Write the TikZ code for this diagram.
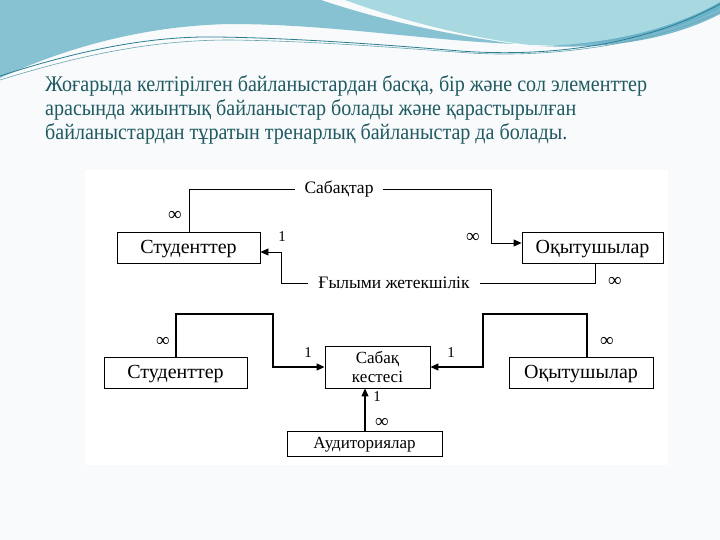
\documentclass[tikz,border=0pt]{standalone}
\usepackage{fontspec}
\setmainfont{Liberation Serif}
\newfontfamily\paraf[FakeStretch=0.9]{Liberation Serif}
\usetikzlibrary{arrows.meta,calc}
\definecolor{teal1}{HTML}{86C2D2}
\definecolor{teal2}{HTML}{A8D8E0}
\definecolor{teal3}{HTML}{5AA8C2}
\definecolor{tline}{HTML}{2A7E90}
\definecolor{ptext}{HTML}{1F5A62}
\definecolor{pagebg}{HTML}{F8FAFB}
\tikzset{
  ebox/.style={draw=black, line width=0.9pt, fill=white, inner sep=0pt, text height=13pt, text depth=2pt, font=\fontsize{20}{21}\selectfont},
  lab/.style={fill=white, inner sep=0pt, font=\fontsize{17.5}{18}\selectfont},
  card/.style={inner sep=0pt, font=\fontsize{15}{15}\selectfont},
  inf/.style={inner sep=0pt, font=\fontsize{19}{19}\selectfont},
  conn/.style={draw=black, line width=0.9pt},
  conn2/.style={draw=black, line width=1.3pt},
  arr/.style={-{Triangle[length=8pt,width=7pt]}},
  ptxt/.style={anchor=base west, inner sep=0pt, text=ptext, font=\paraf\fontsize{22.3}{23}\selectfont}
}
\begin{document}
\begin{tikzpicture}[x=1pt,y=-1pt]
\useasboundingbox (0,0) rectangle (720,540);
\fill[pagebg] (0,0) rectangle (720,540);
% wave decoration
\fill[teal1] (0,0) -- (321,0) .. controls (380,20) and (450,35) .. (515,44)
   .. controls (420,40) and (330,24) .. (230,24) .. controls (130,26) and (50,55) .. (0,78) -- cycle;
\fill[teal2] (345,0) -- (720,0) -- (720,8) .. controls (670,35) and (600,47) .. (530,45)
   .. controls (470,38) and (400,20) .. (345,0) -- cycle;
\fill[teal3, opacity=0.8] (540,46) .. controls (620,44) and (680,25) .. (720,2) -- (720,14)
   .. controls (680,35) and (620,50) .. (540,46) -- cycle;
\draw[tline, line width=0.8pt] (0,76) .. controls (80,50) and (150,36) .. (216,37)
   .. controls (300,38) and (400,46) .. (460,51) .. controls (540,57) and (640,48) .. (720,4);
\draw[tline!70, line width=0.6pt] (0,80) .. controls (90,52) and (160,40) .. (230,40)
   .. controls (320,41) and (410,49) .. (470,53) .. controls (550,58) and (650,45) .. (720,12);
% paragraph
\node[ptxt] (p1) at (45,92) {Жоғарыда келтірілген байланыстардан басқа, бір және сол элементтер};
\node[ptxt] (p2) at (45,116) {арасында жиынтық байланыстар болады және қарастырылған};
\node[ptxt] (p3) at (45,140) {байланыстардан тұратын тренарлық байланыстар да болады.};
% diagram background
\fill[white] (85,170) rectangle (668,465);
% top diagram
\node[ebox, minimum width=143pt, minimum height=31pt] (s1) at (188.5,247.5) {Студенттер};
\node[ebox, minimum width=141pt, minimum height=31pt] (o1) at (592.5,247.5) {Оқытушылар};
\node[lab, inner xsep=9pt] (l1) at (339,189) {Сабақтар};
\node[lab, inner xsep=10pt] (l2) at (394,283) {Ғылыми жетекшілік};
\coordinate (c1) at (189,232);
\coordinate (c2) at (491,243);
\coordinate (c3) at (281,252);
\coordinate (c4) at (595,263);
\draw[conn] (c1) |- (l1.west);
\draw[conn, arr] (l1.east) -| (c2) -- (o1.west |- c2);
\draw[conn, arr] (l2.west) -| (c3) -- (s1.east |- c3);
\draw[conn] (l2.east) -| (c4);
\node[inf] (n1) at (175,216) {∞};
\node[card] (n2) at (282,237) {1};
\node[inf] (n3) at (473,238) {∞};
\node[inf] (n4) at (615,282) {∞};
% bottom diagram
\node[ebox, minimum width=143pt, minimum height=31pt] (s2) at (175.5,372.5) {Студенттер};
\node[draw=black, line width=0.9pt, fill=white, inner sep=0pt, minimum width=105pt, minimum height=42pt, align=center, font=\fontsize{17}{19}\selectfont] (k) at (377.5,367) {Сабақ\\кестесі};
\node[ebox, minimum width=144pt, minimum height=31pt] (o2) at (581,372.5) {Оқытушылар};
\node[ebox, minimum width=155pt, minimum height=25pt, text height=11pt, text depth=2pt, font=\fontsize{17}{18}\selectfont] (a) at (364.5,443.5) {Аудиториялар};
\coordinate (d1) at (176,357);
\coordinate (d2) at (273,314);
\coordinate (d3) at (273,367);
\coordinate (e1) at (587,357);
\coordinate (e2) at (483,314);
\coordinate (e3) at (483,367);
\coordinate (f1) at (365,431);
\draw[conn2, arr] (d1) |- (d2) -- (d3) -- (k.west |- d3);
\draw[conn2, arr] (e1) |- (e2) -- (e3) -- (k.east |- e3);
\draw[conn2, arr] (f1) -- (f1 |- k.south);
\node[inf] (m1) at (163,342) {∞};
\node[card] (m2) at (308,353) {1};
\node[card] (m3) at (451,353) {1};
\node[inf] (m4) at (607,342) {∞};
\node[card] (m5) at (377,397) {1};
\node[inf] (m6) at (382,423) {∞};
\end{tikzpicture}
\end{document}
